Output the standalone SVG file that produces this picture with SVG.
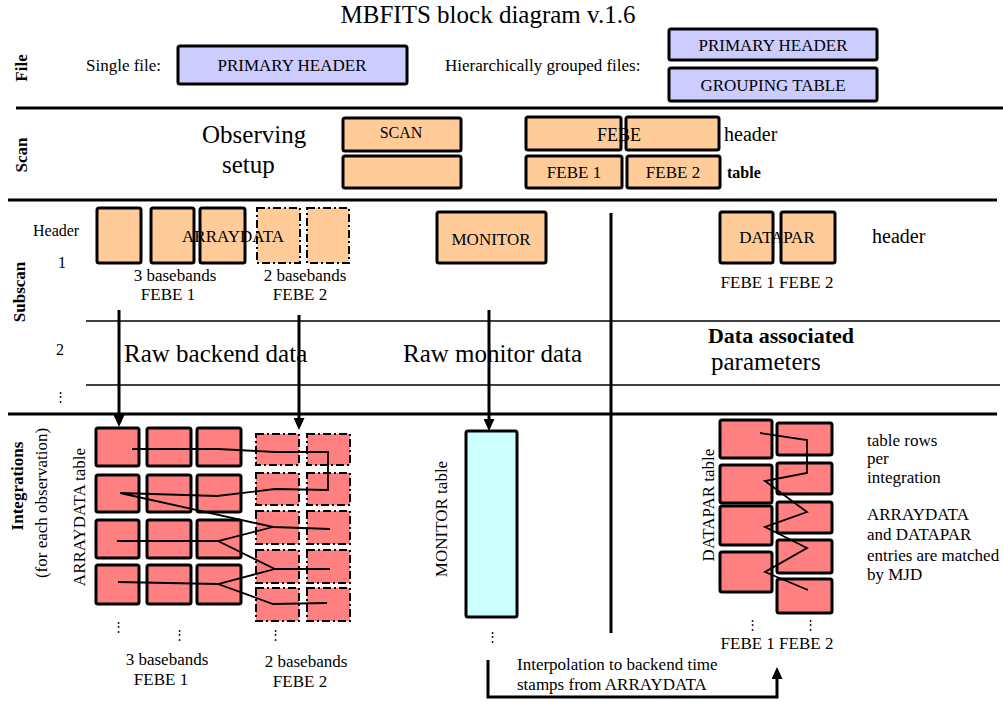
<svg xmlns="http://www.w3.org/2000/svg" width="1003" height="702" viewBox="0 0 1003 702">
<style>
text{font-family:"Liberation Serif","Times New Roman",serif;fill:#000;font-size:17px}
.b{font-weight:bold}
.m{text-anchor:middle}
.box{stroke:#000;stroke-width:3}
.lav{fill:#ccccff}
.org{fill:#ffcc99}
.red{fill:#ff8080}
.cyan{fill:#ccffff}
.dash{stroke:#000;stroke-width:2;stroke-dasharray:8 3 2 3}
.sep{stroke:#000;stroke-width:3;fill:none}
.thin{stroke:#000;stroke-width:1.5;fill:none}
.wire{fill:none;stroke:#000;stroke-width:1.8}
.arrow{stroke:#000;stroke-width:3;fill:none;marker-end:url(#ah)}
.dots{font-family:"DejaVu Serif",serif;font-size:13px;text-anchor:middle}
</style>
<defs>
<marker id="ah" viewBox="0 0 12 11" markerUnits="userSpaceOnUse" markerWidth="12" markerHeight="11" refX="8" refY="5.5" orient="auto">
<path d="M0,0 L12,5.5 L0,11 z" fill="#000"/>
</marker>
</defs>
<rect width="1003" height="702" fill="#fff"/>

<text x="488" y="23" class="m" style="font-size:25px">MBFITS block diagram v.1.6</text>

<!-- section separators -->
<g id="separators">
<line class="sep" x1="16" y1="108" x2="1003" y2="108"/>
<line class="sep" x1="8" y1="200" x2="997" y2="200"/>
<line class="thin" x1="86" y1="321" x2="1000" y2="321"/>
<line class="thin" x1="86" y1="385" x2="1000" y2="385"/>
<line class="sep" x1="8" y1="414" x2="997" y2="414"/>
<line class="sep" x1="611" y1="213" x2="611" y2="633"/>
</g>

<!-- section labels -->
<g id="section-labels">
<text class="b m" transform="translate(27,68) rotate(-90)">File</text>
<text class="b m" transform="translate(27,155) rotate(-90)">Scan</text>
<text class="b m" transform="translate(25,292) rotate(-90)">Subscan</text>
<text class="b m" transform="translate(23,486) rotate(-90)">Integrations</text>
<text class="m" transform="translate(47,503) rotate(-90)">(for each observation)</text>
</g>

<!-- File -->
<g id="file">
<text x="86" y="71">Single file:</text>
<text x="445" y="71">Hierarchically grouped files:</text>
</g>
<g id="primary-header-single">
<rect class="box lav" x="178" y="46" width="229" height="38" rx="2"/>
<text x="292" y="71" class="m">PRIMARY HEADER</text>
</g>
<g id="primary-header-grouped">
<rect class="box lav" x="669" y="29" width="208" height="31" rx="2"/>
<text x="773" y="51" class="m">PRIMARY HEADER</text>
</g>
<g id="grouping-table">
<rect class="box lav" x="669" y="68" width="208" height="33" rx="2"/>
<text x="773" y="91" class="m">GROUPING TABLE</text>
</g>

<!-- Scan -->
<g id="observing-setup">
<text x="202" y="143" style="font-size:25px">Observing</text>
<text x="222" y="173" style="font-size:25px">setup</text>
</g>
<g id="scan">
<rect class="box org" x="343" y="118" width="118" height="33" rx="2"/>
<text x="401" y="138" class="m" style="font-size:16px">SCAN</text>
<rect class="box org" x="343" y="156" width="118" height="32" rx="2"/>
</g>
<g id="febe-header">
<rect class="box org" x="526" y="117" width="95" height="33" rx="2"/>
<rect class="box org" x="626" y="117" width="93" height="33" rx="2"/>
<text x="619" y="141" class="m" style="font-size:18px">FEBE</text>
<text x="724" y="141" style="font-size:20px">header</text>
</g>
<g id="febe-table">
<rect class="box org" x="526" y="156" width="96" height="32" rx="2"/>
<text x="574" y="178" class="m">FEBE 1</text>
<rect class="box org" x="627" y="156" width="93" height="32" rx="2"/>
<text x="673" y="178" class="m">FEBE 2</text>
<text x="727" y="178" class="b" style="font-size:16px">table</text>
</g>

<!-- Subscan -->
<g id="subscan-labels">
<text x="33" y="236" style="font-size:16px">Header</text>
<text x="58" y="268" style="font-size:16px">1</text>
<text x="56" y="355" style="font-size:16px">2</text>
<text x="60" y="401" class="dots">⋮</text>
<text x="124" y="362" style="font-size:25px">Raw backend data</text>
<text x="403" y="362" style="font-size:25px">Raw monitor data</text>
<text x="781" y="343" class="b m" style="font-size:22px">Data associated</text>
<text x="711" y="370" style="font-size:25px">parameters</text>
</g>
<g id="arraydata-header">
<rect class="box org" x="97" y="208" width="44" height="55" rx="2"/>
<rect class="box org" x="151" y="208" width="43" height="55" rx="2"/>
<rect class="box org" x="200" y="208" width="45" height="55" rx="2"/>
<rect class="dash org" x="257" y="208" width="43" height="55"/>
<rect class="dash org" x="307" y="208" width="42" height="55"/>
<text x="233" y="242" class="m">ARRAYDATA</text>
<text x="175" y="281" class="m">3 basebands</text>
<text x="168" y="300" class="m">FEBE 1</text>
<text x="305" y="281" class="m">2 basebands</text>
<text x="300" y="300" class="m">FEBE 2</text>
</g>
<g id="monitor-header">
<rect class="box org" x="437" y="212" width="109" height="51" rx="2"/>
<text x="491" y="245" class="m">MONITOR</text>
</g>
<g id="datapar-header">
<rect class="box org" x="720" y="212" width="53" height="51" rx="2"/>
<rect class="box org" x="781" y="212" width="54" height="51" rx="2"/>
<text x="777" y="243" class="m">DATAPAR</text>
<text x="872" y="243" style="font-size:20px">header</text>
<text x="777" y="288" class="m">FEBE 1 FEBE 2</text>
</g>

<!-- Integrations -->
<g id="arraydata-table">
<text class="m" transform="translate(85,517) rotate(-90)">ARRAYDATA table</text>
<rect class="box red" x="96" y="428" width="43" height="38" rx="2"/>
<rect class="box red" x="147" y="428" width="44" height="38" rx="2"/>
<rect class="box red" x="197" y="428" width="44" height="38" rx="2"/>
<rect class="box red" x="96" y="475" width="43" height="37" rx="2"/>
<rect class="box red" x="147" y="475" width="44" height="37" rx="2"/>
<rect class="box red" x="197" y="475" width="44" height="37" rx="2"/>
<rect class="box red" x="96" y="520" width="43" height="38" rx="2"/>
<rect class="box red" x="147" y="520" width="44" height="38" rx="2"/>
<rect class="box red" x="197" y="520" width="44" height="38" rx="2"/>
<rect class="box red" x="96" y="565" width="43" height="39" rx="2"/>
<rect class="box red" x="147" y="565" width="44" height="39" rx="2"/>
<rect class="box red" x="197" y="565" width="44" height="39" rx="2"/>
<rect class="dash red" x="256" y="434" width="43" height="31"/>
<rect class="dash red" x="307" y="434" width="43" height="31"/>
<rect class="dash red" x="256" y="473" width="43" height="32"/>
<rect class="dash red" x="307" y="473" width="43" height="32"/>
<rect class="dash red" x="256" y="511" width="43" height="33"/>
<rect class="dash red" x="307" y="511" width="43" height="33"/>
<rect class="dash red" x="256" y="550" width="43" height="33"/>
<rect class="dash red" x="307" y="550" width="43" height="33"/>
<rect class="dash red" x="256" y="588" width="43" height="33"/>
<rect class="dash red" x="307" y="588" width="43" height="33"/>
<text x="118" y="631" class="dots">⋮</text>
<text x="179" y="639" class="dots">⋮</text>
<text x="275" y="639" class="dots">⋮</text>
<text x="167" y="665" class="m">3 basebands</text>
<text x="161" y="685" class="m">FEBE 1</text>
<text x="306" y="667" class="m">2 basebands</text>
<text x="300" y="687" class="m">FEBE 2</text>
</g>
<g id="monitor-table">
<text class="m" transform="translate(447,519) rotate(-90)">MONITOR table</text>
<rect class="box cyan" x="466" y="431" width="51" height="186" rx="2"/>
<text x="492" y="641" class="dots">⋮</text>
</g>
<g id="datapar-table">
<text class="m" transform="translate(714,505) rotate(-90)">DATAPAR table</text>
<rect class="box red" x="720" y="420" width="52" height="38" rx="2"/>
<rect class="box red" x="720" y="465" width="52" height="38" rx="2"/>
<rect class="box red" x="720" y="506" width="52" height="39" rx="2"/>
<rect class="box red" x="720" y="552" width="52" height="40" rx="2"/>
<rect class="box red" x="777" y="423" width="55" height="32" rx="2"/>
<rect class="box red" x="777" y="463" width="55" height="31" rx="2"/>
<rect class="box red" x="777" y="502" width="55" height="31" rx="2"/>
<rect class="box red" x="777" y="540" width="55" height="33" rx="2"/>
<rect class="box red" x="777" y="579" width="55" height="34" rx="2"/>
<text x="752" y="629" class="dots">⋮</text>
<text x="810" y="629" class="dots">⋮</text>
<text x="777" y="649" class="m">FEBE 1 FEBE 2</text>
</g>
<g id="notes">
<text x="867" y="446">table rows</text>
<text x="867" y="464">per</text>
<text x="867" y="483">integration</text>
<text x="867" y="520">ARRAYDATA</text>
<text x="867" y="540">and DATAPAR</text>
<text x="867" y="561">entries are matched</text>
<text x="867" y="580">by MJD</text>
<text x="517" y="670">Interpolation to backend time</text>
<text x="517" y="690">stamps from ARRAYDATA</text>
</g>

<!-- connectors -->
<g id="connectors">
<line class="arrow" x1="119" y1="310" x2="119" y2="423"/>
<line class="arrow" x1="299" y1="315" x2="299" y2="426"/>
<line class="arrow" x1="489" y1="310" x2="489" y2="427"/>
<path class="arrow" d="M488,660 V697 H777 V671"/>
<polyline class="wire" points="132,449 218,449 275,452 328,452 328,490 275,489 217,496 120,493 273,527 330,529"/>
<polyline class="wire" points="117,541 218,541 273,527"/>
<polyline class="wire" points="218,541 275,569 330,569"/>
<polyline class="wire" points="118,582 218,584 275,569"/>
<polyline class="wire" points="218,584 273,604 327,603"/>
<polyline class="wire" points="760,433 807,440 807,473 765,481 807,512 765,527 807,548 765,572 808,590"/>
</g>
</svg>
